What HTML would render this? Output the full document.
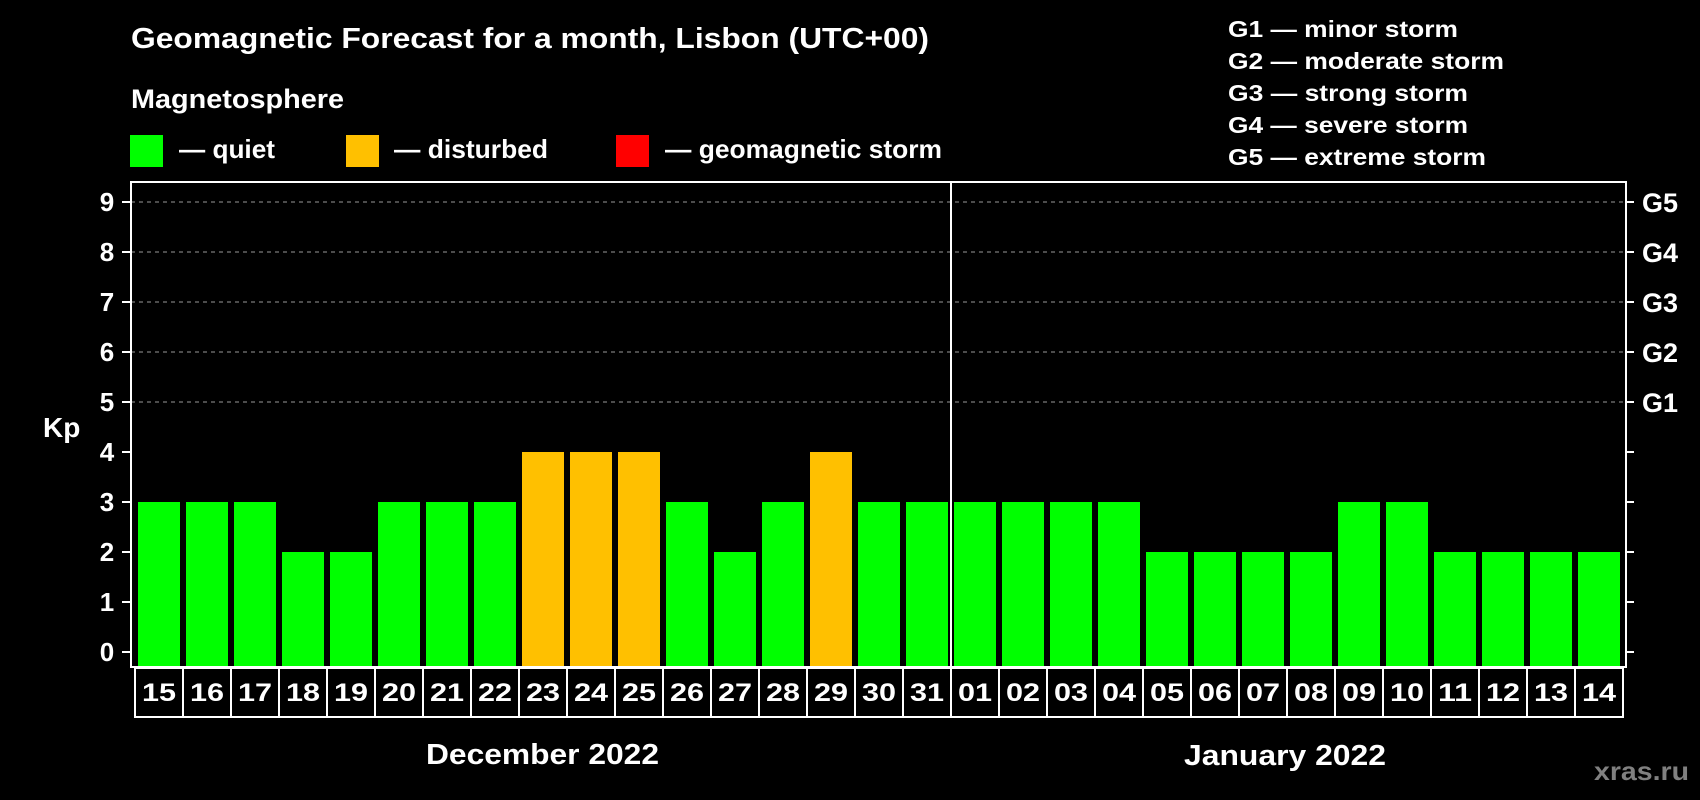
<!DOCTYPE html>
<html><head><meta charset="utf-8"><style>
html,body{margin:0;padding:0;background:#000;width:1700px;height:800px;overflow:hidden}
svg{display:block}
text{font-family:"Liberation Sans",sans-serif;font-weight:bold;fill:#fff}
</style></head><body>
<svg id="chart" width="1700" height="800" viewBox="0 0 1700 800">
<rect width="1700" height="800" fill="#000"/>
<text x="131" y="48" font-size="29" textLength="798" lengthAdjust="spacingAndGlyphs">Geomagnetic Forecast for a month, Lisbon (UTC+00)</text>
<text x="131" y="108" font-size="27" textLength="213" lengthAdjust="spacingAndGlyphs">Magnetosphere</text>
<rect x="130" y="135" width="33" height="32" fill="#00ff00"/>
<text x="179" y="158" font-size="26" textLength="96" lengthAdjust="spacingAndGlyphs">— quiet</text>
<rect x="346" y="135" width="33" height="32" fill="#ffc000"/>
<text x="394" y="158" font-size="26" textLength="154" lengthAdjust="spacingAndGlyphs">— disturbed</text>
<rect x="616" y="135" width="33" height="32" fill="#ff0000"/>
<text x="665" y="158" font-size="26" textLength="277" lengthAdjust="spacingAndGlyphs">— geomagnetic storm</text>
<g font-size="23">
<text x="1228" y="37" textLength="230" lengthAdjust="spacingAndGlyphs">G1 — minor storm</text>
<text x="1228" y="69" textLength="276" lengthAdjust="spacingAndGlyphs">G2 — moderate storm</text>
<text x="1228" y="101" textLength="240" lengthAdjust="spacingAndGlyphs">G3 — strong storm</text>
<text x="1228" y="133" textLength="240" lengthAdjust="spacingAndGlyphs">G4 — severe storm</text>
<text x="1228" y="165" textLength="258" lengthAdjust="spacingAndGlyphs">G5 — extreme storm</text>
</g>
<text x="43" y="437" font-size="28">Kp</text>
<g id="grid"></g><g id="bars"></g><g id="axes"></g>
<text x="426" y="764" font-size="29" textLength="233" lengthAdjust="spacingAndGlyphs">December 2022</text>
<text x="1184" y="765" font-size="29" textLength="202" lengthAdjust="spacingAndGlyphs">January 2022</text>
<text x="1594" y="780" font-size="26" style="fill:#808080" textLength="95" lengthAdjust="spacingAndGlyphs">xras.ru</text>
</svg>
<script>
const days = ["15","16","17","18","19","20","21","22","23","24","25","26","27","28","29","30","31","01","02","03","04","05","06","07","08","09","10","11","12","13","14"];
const kpValues = [3,3,3,2,2,3,3,3,4,4,4,3,2,3,4,3,3,3,3,3,3,2,2,2,2,3,3,2,2,2,2];
const yTicks = [0,1,2,3,4,5,6,7,8,9];
const gLabels = ["G1","G2","G3","G4","G5"];
const gLevels = [5,6,7,8,9];
const monthBreakIndex = 17;

const NS="http://www.w3.org/2000/svg";
const L=131,R=1626,T=182,B=667,Y0=652,UNIT=50,X0=135,STEP=48;
const y=v=>Y0-v*UNIT;
const x=i=>X0+i*STEP;
function mk(tag,attrs,parent){const e=document.createElementNS(NS,tag);for(const k in attrs)e.setAttribute(k,attrs[k]);parent.appendChild(e);return e;}
const grid=document.getElementById('grid'),bars=document.getElementById('bars'),axes=document.getElementById('axes');
gLevels.forEach(v=>{
  const ln=mk('line',{x1:L,x2:R,y1:y(v),y2:y(v),stroke:'#999','stroke-width':1,'stroke-dasharray':'4,4'},grid);
  
  
});
kpValues.forEach((v,i)=>{
  const col=v>=5?'#ff0000':(v>=4?'#ffc000':'#00ff00');
  const r=mk('rect',{x:x(i)+3,y:y(v),width:42,height:B-y(v),fill:col},bars);
  
  
});
const frame=mk('rect',{x:L,y:T,width:R-L,height:B-T,fill:'none',stroke:'#fff','stroke-width':2},axes);


const div=mk('line',{x1:x(monthBreakIndex),x2:x(monthBreakIndex),y1:T,y2:B,stroke:'#fff','stroke-width':2},axes);


yTicks.forEach(v=>{
  mk('line',{x1:L-9,x2:L,y1:y(v),y2:y(v),stroke:'#fff','stroke-width':2},axes);
  mk('line',{x1:R,x2:R+8,y1:y(v),y2:y(v),stroke:'#fff','stroke-width':2},axes);
  const t=mk('text',{x:107,y:y(v)+9,'font-size':26,'text-anchor':'middle'},axes);
  t.textContent=yTicks[yTicks.indexOf(v)];
  
  
});
gLabels.forEach((g,i)=>{
  const t=mk('text',{x:1642,y:y(gLevels[i])+10,'font-size':27},axes);
  t.textContent=g;
  
  
});
const box=mk('rect',{x:X0,y:B+1,width:days.length*STEP,height:49,fill:'none',stroke:'#fff','stroke-width':2},axes);


days.forEach((d,i)=>{
  if(i>0)mk('line',{x1:x(i),x2:x(i),y1:B,y2:B+50,stroke:'#fff','stroke-width':2},axes);
  const t=mk('text',{x:x(i)+STEP/2,y:701,'font-size':25,'text-anchor':'middle',textLength:34,lengthAdjust:'spacingAndGlyphs'},axes);
  t.textContent=d;
  
  
});
</script>
</body></html>
